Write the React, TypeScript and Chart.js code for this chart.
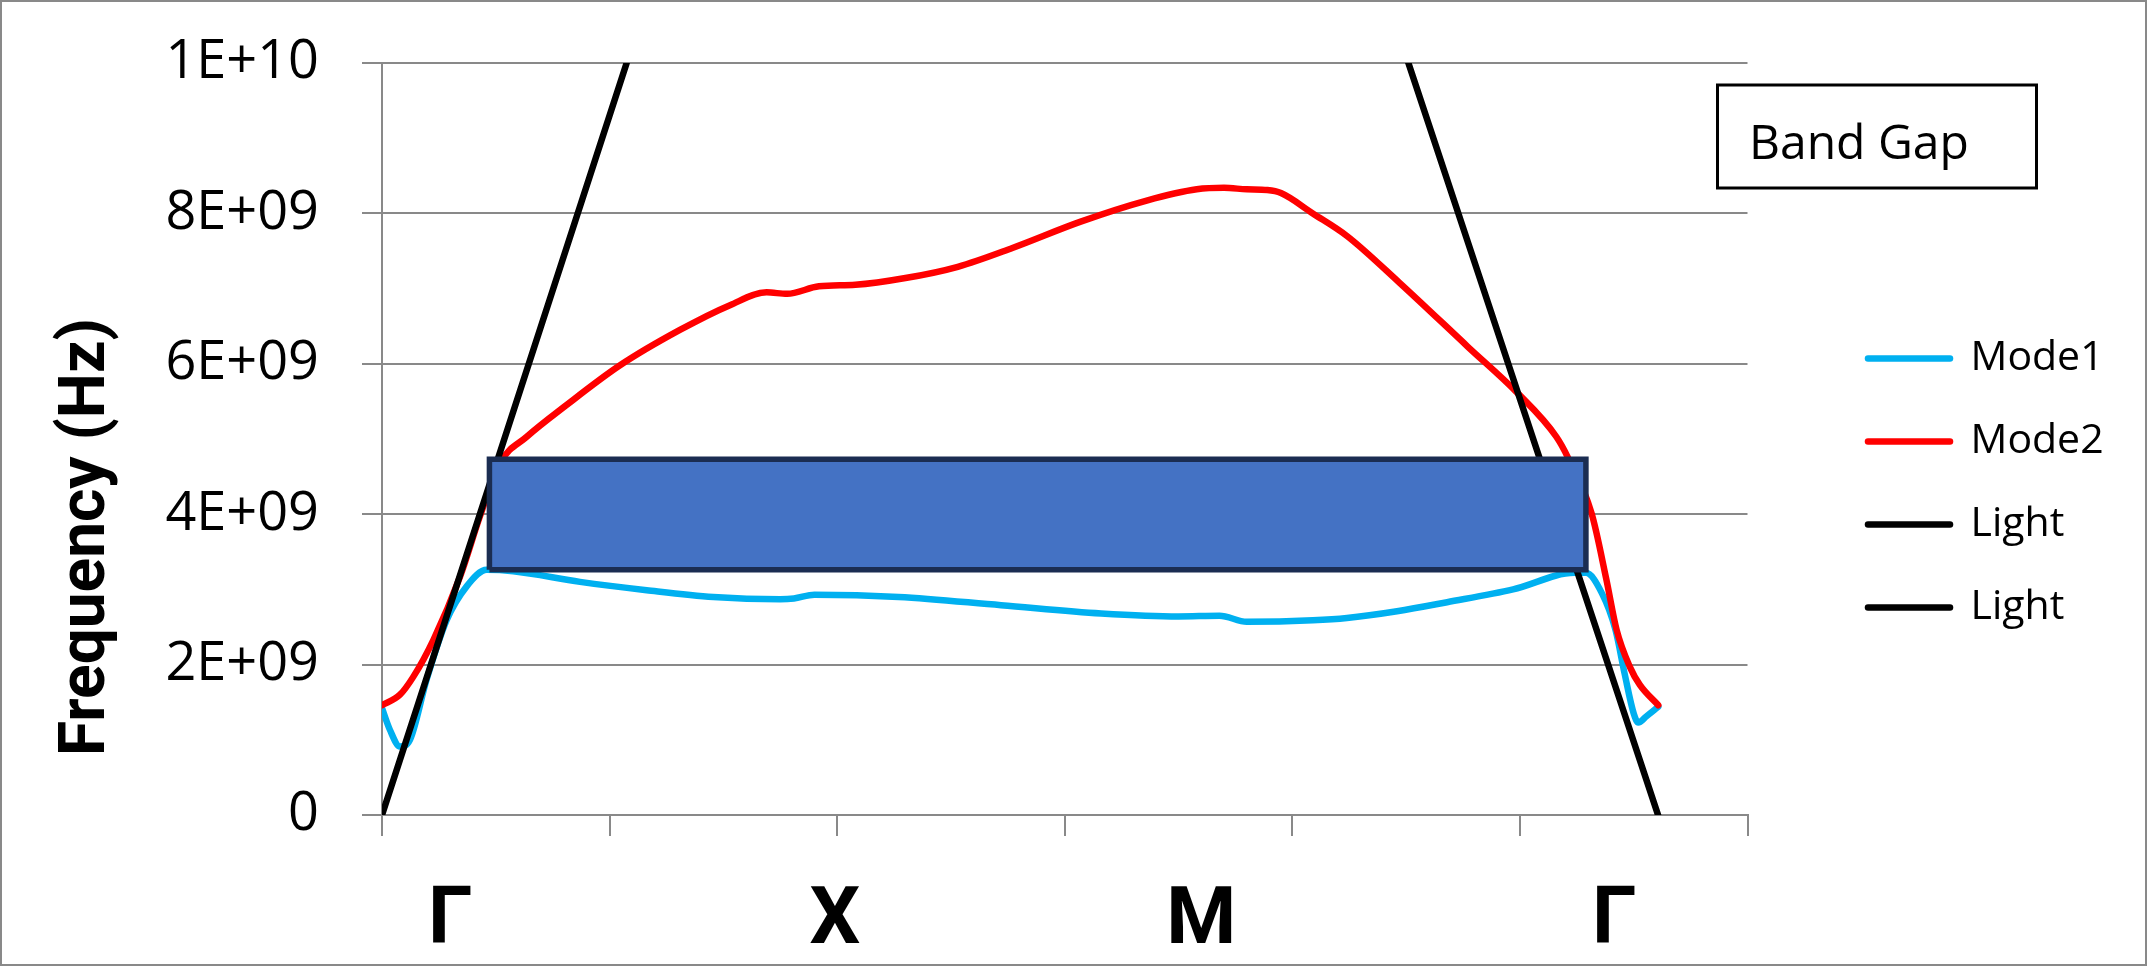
import React, { useEffect, useRef } from 'react';
import { Chart, registerables } from 'chart.js';

Chart.register(...registerables);

// ---------- data ----------
const seriesLabels = ['Mode1', 'Mode2', 'Light', 'Light'];
const seriesColors = ['#00B0F0', '#FF0000', '#000000', '#000000'];

const mode1X = [0, 0.035, 0.079, 0.123, 0.196, 0.284, 0.372, 0.46, 0.577, 0.87, 1.163, 1.456, 1.75, 1.81, 1.9, 2.27, 2.72, 3.16, 3.5, 3.68, 3.8, 4.09, 4.24, 4.46, 4.68, 4.97, 5.24, 5.29, 5.36, 5.42, 5.46, 5.5, 5.52, 5.555, 5.608];
const mode1Y = [1.42e9, 1.13e9, 0.91e9, 1.0e9, 1.8e9, 2.59e9, 3.04e9, 3.26e9, 3.24e9, 3.1e9, 2.99e9, 2.9e9, 2.87e9, 2.88e9, 2.93e9, 2.9e9, 2.79e9, 2.68e9, 2.64e9, 2.65e9, 2.57e9, 2.59e9, 2.62e9, 2.71e9, 2.83e9, 3.0e9, 3.22e9, 3.22e9, 2.95e9, 2.46e9, 1.88e9, 1.35e9, 1.23e9, 1.31e9, 1.44e9];

const mode2X = [0, 0.079, 0.138, 0.226, 0.343, 0.43, 0.518, 0.636, 0.81, 1.046, 1.309, 1.529, 1.69, 1.78, 1.92, 2.08, 2.3, 2.53, 2.77, 3.07, 3.36, 3.58, 3.7, 3.8, 3.89, 3.95, 4.09, 4.24, 4.47, 4.77, 4.99, 5.16, 5.21, 5.315, 5.38, 5.425, 5.483, 5.527, 5.608];
const mode2Y = [1.46e9, 1.6e9, 1.84e9, 2.33e9, 3.17e9, 3.97e9, 4.68e9, 5.03e9, 5.45e9, 5.98e9, 6.45e9, 6.78e9, 6.95e9, 6.93e9, 7.03e9, 7.05e9, 7.14e9, 7.29e9, 7.54e9, 7.89e9, 8.17e9, 8.32e9, 8.34e9, 8.32e9, 8.31e9, 8.27e9, 8.0e9, 7.7e9, 7.08e9, 6.23e9, 5.61e9, 5.03e9, 4.76e9, 4.01e9, 3.13e9, 2.46e9, 1.97e9, 1.73e9, 1.46e9];

const light1X = [0, 1.075];
const light1Y = [0, 1e10];
const light2X = [4.51, 5.607];
const light2Y = [1e10, 0];

// band gap rectangle: x range and frequency range
const bandGapX = [0.472, 5.29];
const bandGapY = [3.26e9, 4.73e9];
const bandGapLabel = 'Band Gap';

const xTickLabels = ['Γ', 'X', 'M', 'Γ'];
const xTickPositions = [0.3, 1.99, 3.6, 5.415];
const yTickLabels = ['0', '2E+09', '4E+09', '6E+09', '8E+09', '1E+10'];
const yTitle = 'Frequency (Hz)';

// ---------- helpers ----------
const toPts = (xs: number[], ys: number[]) => xs.map((x, i) => ({ x, y: ys[i] }));
const bandPolygon = [
  { x: bandGapX[0], y: bandGapY[0] },
  { x: bandGapX[1], y: bandGapY[0] },
  { x: bandGapX[1], y: bandGapY[1] },
  { x: bandGapX[0], y: bandGapY[1] },
  { x: bandGapX[0], y: bandGapY[0] },
];

const W = 2143;
const H = 962;
const GRID = '#898989';

const overlayPlugin = {
  id: 'overlay',
  afterDraw(chart: any) {
    const ctx = chart.ctx as CanvasRenderingContext2D;
    ctx.save();
    ctx.translate(102, 535);
    ctx.rotate(-Math.PI / 2);
    ctx.font = 'bold 64px Roboto';
    ctx.fillStyle = '#000';
    ctx.textAlign = 'center';
    ctx.textBaseline = 'alphabetic';
    ctx.fillText(yTitle, 0, 0);
    ctx.restore();

    ctx.save();
    ctx.lineWidth = 3;
    ctx.strokeStyle = '#000';
    ctx.strokeRect(1715.5, 83, 319, 103);
    ctx.font = '48px "Open Sans"';
    ctx.fillStyle = '#000';
    ctx.textAlign = 'left';
    ctx.textBaseline = 'alphabetic';
    ctx.fillText(bandGapLabel, 1747, 157);
    ctx.restore();
  },
};

export default function App() {
  const ref = useRef<HTMLCanvasElement>(null);

  useEffect(() => {
    const canvas = ref.current;
    if (!canvas) return;

    const legendFont = 41;
    const legendPad = 42;
    const legendBox = 82;
    const mctx = document.createElement('canvas').getContext('2d')!;
    mctx.font = `${legendFont}px Open Sans`;
    const tw = Math.max(...seriesLabels.map((t) => mctx.measureText(t).width));
    const legendW = legendPad + legendBox + legendFont / 2 + tw + 10;
    const legendLeft = 1824;
    const rightPad = Math.max(0, W - legendLeft - legendW);
    const chartRight = 1745.5;

    const lineBase = {
      showLine: true,
      pointRadius: 0,
      pointHoverRadius: 0,
      borderWidth: 6.5,
      borderCapStyle: 'round',
      borderJoinStyle: 'round',
      fill: false,
    };

    const chart = new Chart(canvas, {
      type: 'scatter',
      data: {
        datasets: [
          { ...lineBase, label: seriesLabels[0], data: toPts(mode1X, mode1Y), borderColor: seriesColors[0], backgroundColor: seriesColors[0], cubicInterpolationMode: 'monotone', order: 4 },
          { ...lineBase, label: seriesLabels[1], data: toPts(mode2X, mode2Y), borderColor: seriesColors[1], backgroundColor: seriesColors[1], cubicInterpolationMode: 'monotone', order: 3 },
          { ...lineBase, label: seriesLabels[2], data: toPts(light1X, light1Y), borderColor: seriesColors[2], backgroundColor: seriesColors[2], tension: 0, order: 2 },
          { ...lineBase, label: seriesLabels[3], data: toPts(light2X, light2Y), borderColor: seriesColors[3], backgroundColor: seriesColors[3], tension: 0, order: 2 },
          {
            label: bandGapLabel,
            data: bandPolygon,
            showLine: true,
            pointRadius: 0,
            pointHoverRadius: 0,
            tension: 0,
            borderWidth: 5.5,
            borderColor: '#1B2D52',
            backgroundColor: '#4472C4',
            borderJoinStyle: 'miter',
            fill: 'shape',
            order: 0,
          },
        ],
      } as any,
      options: {
        responsive: false,
        maintainAspectRatio: false,
        animation: false,
        events: [],
        layout: { padding: { left: 0, right: rightPad, top: 0, bottom: 0 } },
        scales: {
          x: {
            type: 'linear',
            position: 'bottom',
            weight: 0,
            min: 0,
            max: 6,
            ticks: { stepSize: 1, display: false },
            grid: { display: true, drawOnChartArea: false, drawTicks: true, tickLength: 21, color: GRID, lineWidth: 2 },
            border: { display: true, color: GRID, width: 2 },
            afterFit: (s: any) => { s.height = 21; s.paddingLeft = 0; s.paddingRight = 0; },
          },
          xl: {
            type: 'linear',
            axis: 'x',
            position: 'bottom',
            weight: 1,
            min: 0,
            max: 6,
            grid: { display: false },
            border: { display: false },
            afterBuildTicks: (s: any) => { s.ticks = xTickPositions.map((v) => ({ value: v })); },
            ticks: {
              autoSkip: false,
              maxRotation: 0,
              minRotation: 0,
              padding: 31,
              color: '#000',
              font: { family: 'Roboto', size: 80, weight: 'bold' },
              callback: (_v: any, i: number) => xTickLabels[i],
            },
            afterFit: (s: any) => { s.height = H - 813 - 21; s.paddingLeft = 0; s.paddingRight = 0; },
          },
          y: {
            type: 'linear',
            position: 'left',
            min: 0,
            max: 1e10,
            ticks: {
              stepSize: 2e9,
              padding: 43,
              color: '#000',
              font: { family: 'Open Sans', size: 54 },
              callback: (_v: any, i: number) => yTickLabels[i],
            },
            grid: { color: GRID, lineWidth: 2, drawTicks: true, tickLength: 20 },
            border: { display: true, color: GRID, width: 2 },
            afterFit: (s: any) => { s.width = 380; s.paddingTop = 0; s.paddingBottom = 0; },
          },
          yR: {
            type: 'linear',
            axis: 'y',
            position: 'right',
            grid: { display: false },
            border: { display: false },
            ticks: { display: false },
            afterFit: (s: any) => { s.width = legendLeft - chartRight; s.paddingTop = 0; s.paddingBottom = 0; },
          },
        },
        plugins: {
          title: { display: true, text: ' ', font: { size: 61, lineHeight: 1 }, padding: 0 },
          tooltip: { enabled: false },
          legend: {
            position: 'right',
            align: 'center',
            labels: {
              color: '#000',
              font: { family: 'Open Sans', size: legendFont },
              padding: legendPad,
              usePointStyle: true,
              pointStyleWidth: legendBox,
              generateLabels: () =>
                seriesLabels.map((t, i) => ({
                  text: t,
                  fillStyle: seriesColors[i],
                  strokeStyle: seriesColors[i],
                  lineWidth: 6.5,
                  lineCap: 'round',
                  pointStyle: 'line',
                  hidden: false,
                  datasetIndex: i,
                  fontColor: '#000',
                })),
            },
          },
        },
      } as any,
      plugins: [overlayPlugin],
    });

    return () => chart.destroy();
  }, []);

  return (
    <div
      style={{
        position: 'absolute',
        left: 0,
        top: 0,
        width: 2147,
        height: 966,
        boxSizing: 'border-box',
        border: `2px solid ${GRID}`,
        background: '#fff',
      }}
    >
      <canvas ref={ref} width={W} height={H} style={{ display: 'block' }} />
    </div>
  );
}
